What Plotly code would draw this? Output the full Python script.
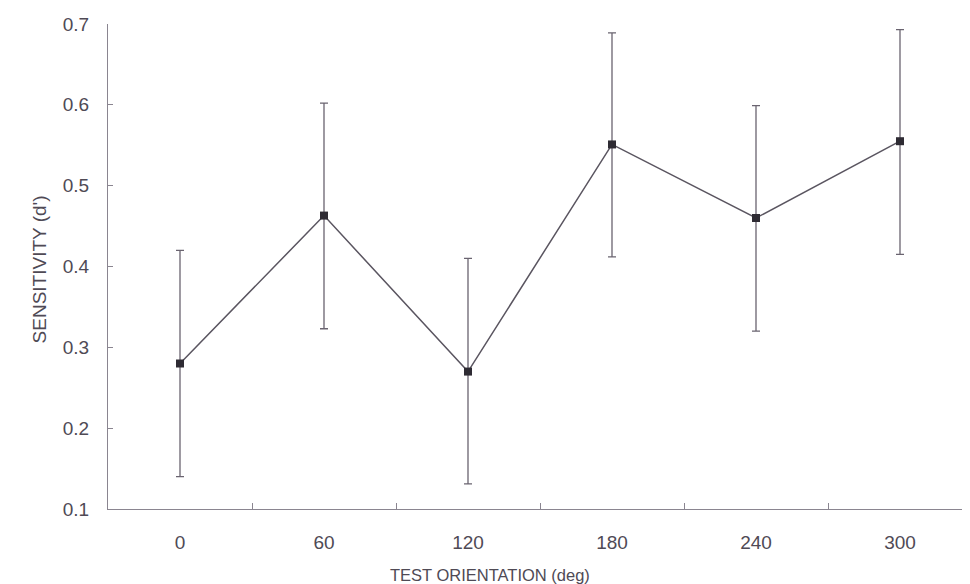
import plotly.graph_objects as go

orientation = ["0", "60", "120", "180", "240", "300"]
sensitivity = [0.28, 0.463, 0.27, 0.551, 0.46, 0.555]
upper = [0.42, 0.602, 0.41, 0.689, 0.599, 0.693]
lower = [0.14, 0.323, 0.131, 0.412, 0.32, 0.415]
y_ticks = [0.1, 0.2, 0.3, 0.4, 0.5, 0.6, 0.7]
y_tick_labels = ["0.1", "0.2", "0.3", "0.4", "0.5", "0.6", "0.7"]
x_title = "TEST ORIENTATION (deg)"
y_title = "SENSITIVITY (d')"

err_plus = [u - s for u, s in zip(upper, sensitivity)]
err_minus = [s - l for s, l in zip(sensitivity, lower)]

txt = "#4f4a55"
axc = "#8a8590"
fnt = "Liberation Sans, Arial"

fig = go.Figure()
fig.add_trace(go.Scatter(
    x=orientation, y=sensitivity,
    mode="lines+markers",
    line=dict(color="#5a5560", width=1.5),
    marker=dict(symbol="square", size=8, color="#2e2b33"),
    error_y=dict(type="data", symmetric=False, array=err_plus, arrayminus=err_minus,
                 color="#6a6470", thickness=1.3, width=4),
    showlegend=False,
))

fig.update_layout(
    width=970, height=584,
    margin=dict(l=100, r=6, t=13, b=83),
    plot_bgcolor="white", paper_bgcolor="white",
    font=dict(family=fnt, size=16, color=txt),
    xaxis=dict(
        type="category", range=[-0.5, 5.5],
        showline=True, linecolor=axc, linewidth=1,
        ticks="inside", ticklen=6, tickcolor=axc, tickson="boundaries",
        showgrid=False, zeroline=False,
        tickfont=dict(family=fnt, size=19, color=txt),
        ticklabelstandoff=16,
    ),
    yaxis=dict(
        range=[0.1, 0.7], tickvals=y_ticks, ticktext=y_tick_labels,
        showline=True, linecolor=axc, linewidth=1,
        ticks="inside", ticklen=5, tickcolor=axc,
        showgrid=False, zeroline=False,
        tickfont=dict(family=fnt, size=19, color=txt),
        ticklabelstandoff=14,
    ),
    annotations=[
        dict(text=x_title, xref="paper", yref="paper", x=0.442, y=0,
             xanchor="center", yanchor="middle", yshift=-66, showarrow=False,
             font=dict(family=fnt, size=16.5, color=txt)),
        dict(text=y_title, xref="paper", yref="paper", x=0, y=0.494,
             xanchor="center", yanchor="middle", xshift=-69, textangle=-90, showarrow=False,
             font=dict(family=fnt, size=19, color=txt)),
    ],
)

fig.write_html("out.html")
